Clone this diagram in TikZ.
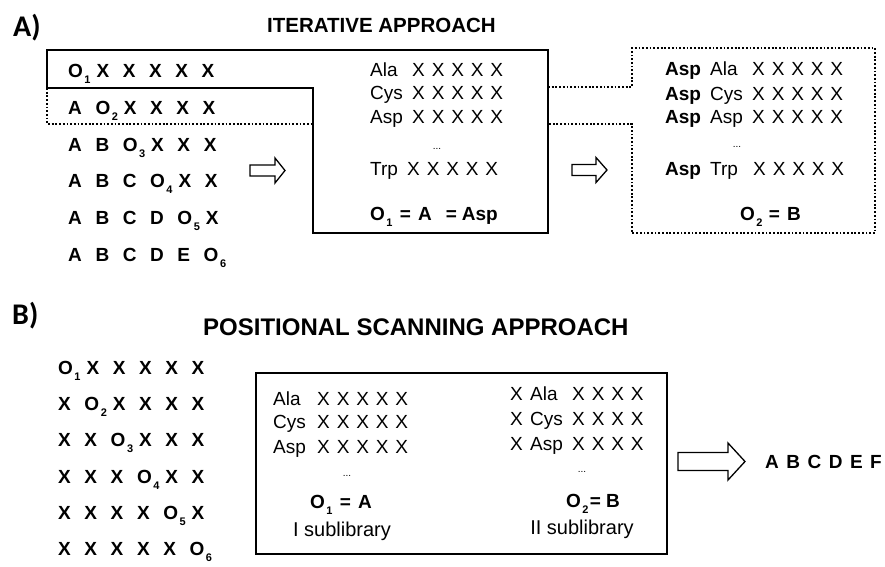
\documentclass[tikz,border=0pt]{standalone}
\usepackage{fontspec}
\setmainfont{Liberation Sans}
\newfontfamily\panelfont{Carlito}

% subscript on an O that does not push the following letter away
\newcommand\sbx[1]{\rlap{\hspace{1.5pt}\raisebox{-6pt}{\fontsize{11}{11}\selectfont #1}}}
\newcommand\gb{\hspace{13.6pt}}   % gap between bold sequence letters
\newcommand\xg{\hspace{6.9pt}}    % gap inside an X block
\newcommand\xfive{X\xg X\xg X\xg X\xg X}
\newcommand\xfour{X\xg X\xg X\xg X}

\tikzset{
  solidline/.style={line width=2.4pt, line join=miter},
  dotline/.style={line width=1.8pt, dash pattern=on 1.8pt off 1.9pt},
  seqrow/.style={anchor=base west, inner sep=0pt, font=\fontsize{19}{21}\selectfont\bfseries},
  plain/.style={anchor=base west, inner sep=0pt, font=\fontsize{19}{21}\selectfont},
  boldtxt/.style={anchor=base west, inner sep=0pt, font=\fontsize{19}{21}\selectfont\bfseries},
  dots/.style={inner sep=0pt, font=\fontsize{10}{10}\selectfont},
  paneltag/.style={anchor=base west, inner sep=0pt, font=\panelfont\fontsize{30}{32}\selectfont\bfseries},
  hollow/.style={draw, line width=1.3pt, fill=white, line join=miter},
}

\begin{document}
\begin{tikzpicture}[x=1pt,y=-1pt]
\fill[white] (0,0) rectangle (885,566);
\useasboundingbox (0,0) rectangle (885,566);

% ---------------- A) iterative approach ----------------
\node[paneltag] (tagA) at (13,36) {A)};
\node[anchor=base west, inner sep=0pt, font=\fontsize{20.5}{22}\selectfont\bfseries]
  (titleA) at (267,32) {ITERATIVE APPROACH};

% outline of the first sublibrary (solid) and of the second one (dotted)
\coordinate (s1) at (47,50);  \coordinate (s2) at (548,50);
\coordinate (s3) at (548,233); \coordinate (s4) at (313,233);
\coordinate (s5) at (313,88);  \coordinate (s6) at (47,88);
\draw[solidline] (s1) -- (s2) -- (s3) -- (s4) -- (s5) -- (s6) -- cycle;

\coordinate (d1) at (47,124); \coordinate (d2) at (313,124);
\draw[dotline] (s6) -- (d1) -- (d2);
\coordinate (e1) at (548,87);  \coordinate (e2) at (632,87);
\coordinate (e3) at (632,48);  \coordinate (e4) at (875,48);
\coordinate (e5) at (875,233); \coordinate (e6) at (632,233);
\coordinate (e7) at (632,124); \coordinate (e8) at (548,124);
\draw[dotline] (e1) -- (e2) -- (e3) -- (e4) -- (e5) -- (e6) -- (e7) -- (e8);

% sequences
\node[seqrow] (ra1) at (68,77.5)  {O\sbx{1}\gb X\gb X\gb X\gb X\gb X};
\node[seqrow] (ra2) at (68,114.3) {A\gb O\sbx{2}\gb X\gb X\gb X\gb X};
\node[seqrow] (ra3) at (68,151.1) {A\gb B\gb O\sbx{3}\gb X\gb X\gb X};
\node[seqrow] (ra4) at (68,187.9) {A\gb B\gb C\gb O\sbx{4}\gb X\gb X};
\node[seqrow] (ra5) at (68,224.7) {A\gb B\gb C\gb D\gb O\sbx{5}\gb X};
\node[seqrow] (ra6) at (68,261.5) {A\gb B\gb C\gb D\gb E\gb O\sbx{6}};

% first library
\node[plain] (m1) at (370,76)  {Ala};  \node[plain] (mx1) at (412,76)  {\xfive};
\node[plain] (m2) at (370,99.5){Cys};  \node[plain] (mx2) at (412,99.5){\xfive};
\node[plain] (m3) at (370,123) {Asp};  \node[plain] (mx3) at (412,123) {\xfive};
\node[dots]  (m4) at (437,149) {...};
\node[plain] (m5) at (370,175) {Trp};  \node[plain] (mx5) at (407,175) {\xfive};
\node[boldtxt] (m6) at (370,220) {O\sbx{1}\hspace{15pt}=\hspace{7pt}A\hspace{14pt}=\hspace{5pt}Asp};

% second library
\node[boldtxt] (n1b) at (665,75)  {Asp}; \node[plain] (n1) at (710,75)  {Ala}; \node[plain] (nx1) at (752,75)  {\xfive};
\node[boldtxt] (n2b) at (665,100) {Asp}; \node[plain] (n2) at (710,100) {Cys}; \node[plain] (nx2) at (752,100) {\xfive};
\node[boldtxt] (n3b) at (665,123) {Asp}; \node[plain] (n3) at (710,123) {Asp}; \node[plain] (nx3) at (752,123) {\xfive};
\node[dots]    (n4)  at (737,147) {...};
\node[boldtxt] (n5b) at (665,175) {Asp}; \node[plain] (n5) at (710,175) {Trp}; \node[plain] (nx5) at (753,175) {\xfive};
\node[boldtxt] (n6) at (740,220) {O\sbx{2}\hspace{14pt}=\hspace{7pt}B};

% block arrows
\draw[hollow] (250,165) -- (275,165) -- (275,158) -- (285,170.5) -- (275,183) -- (275,176) -- (250,176) -- cycle;
\draw[hollow] (572,164.5) -- (596,164.5) -- (596,157.5) -- (607,170) -- (596,182.5) -- (596,175.5) -- (572,175.5) -- cycle;

% ---------------- B) positional scanning approach ----------------
\node[paneltag] (tagB) at (12,324) {B)};
\node[anchor=base west, inner sep=0pt, font=\fontsize{24}{26}\selectfont\bfseries]
  (titleB) at (203,335) {POSITIONAL SCANNING APPROACH};

\node[seqrow] (rb1) at (58,374.5) {O\sbx{1}\gb X\gb X\gb X\gb X\gb X};
\node[seqrow] (rb2) at (58,410.7) {X\gb O\sbx{2}\gb X\gb X\gb X\gb X};
\node[seqrow] (rb3) at (58,446.9) {X\gb X\gb O\sbx{3}\gb X\gb X\gb X};
\node[seqrow] (rb4) at (58,483.1) {X\gb X\gb X\gb O\sbx{4}\gb X\gb X};
\node[seqrow] (rb5) at (58,519.3) {X\gb X\gb X\gb X\gb O\sbx{5}\gb X};
\node[seqrow] (rb6) at (58,555.5) {X\gb X\gb X\gb X\gb X\gb O\sbx{6}};

\node[draw, line width=1.6pt, inner sep=0pt, minimum width=411pt, minimum height=181pt,
      anchor=north west] (boxB) at (255,372) {};

% I sublibrary
\node[plain] (p1) at (273,405)   {Ala}; \node[plain] (px1) at (317,405)   {\xfive};
\node[plain] (p2) at (273,428.5) {Cys}; \node[plain] (px2) at (317,428.5) {\xfive};
\node[plain] (p3) at (273,453)   {Asp}; \node[plain] (px3) at (317,453)   {\xfive};
\node[dots]  (p4) at (347,476) {...};
\node[boldtxt] (p5) at (310,508) {O\sbx{1}\hspace{15pt}=\hspace{7pt}A};
\node[inner sep=0pt, anchor=base, font=\fontsize{20}{22}\selectfont] (p6) at (342,536) {I sublibrary};

% II sublibrary
\node[plain] (q1x) at (510,400) {X}; \node[plain] (q1) at (530,400) {Ala}; \node[plain] (qx1) at (572,400) {\xfour};
\node[plain] (q2x) at (510,425) {X}; \node[plain] (q2) at (530,425) {Cys}; \node[plain] (qx2) at (572,425) {\xfour};
\node[plain] (q3x) at (510,450) {X}; \node[plain] (q3) at (530,450) {Asp}; \node[plain] (qx3) at (572,450) {\xfour};
\node[dots]  (q4) at (582,472) {...};
\node[boldtxt] (q5) at (566,507) {O\sbx{2}\hspace{9pt}=\hspace{5pt}B};
\node[inner sep=0pt, anchor=base, font=\fontsize{20}{22}\selectfont] (q6) at (582,534) {II sublibrary};

% result
\draw[hollow] (678,452.5) -- (728,452.5) -- (728,443) -- (745,461.5) -- (728,480) -- (728,470.5) -- (678,470.5) -- cycle;
\node[boldtxt] (res) at (765,468) {A\hspace{7.5pt}B\hspace{7.5pt}C\hspace{7.5pt}D\hspace{7.5pt}E\hspace{7.5pt}F};
\end{tikzpicture}
\end{document}
